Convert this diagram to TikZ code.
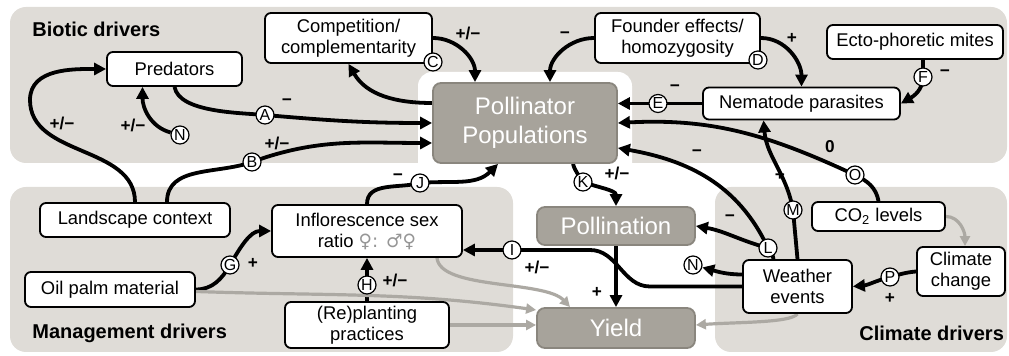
\documentclass[tikz,border=0pt]{standalone}
\usepackage{fontspec}
\setmainfont{Liberation Sans}
\newfontfamily\symfont{DejaVu Sans}
\usetikzlibrary{arrows.meta}

\definecolor{panelgrey}{RGB}{223,220,215}
\definecolor{boxgrey}{RGB}{167,163,155}
\definecolor{boxedge}{RGB}{138,134,126}
\definecolor{linkgrey}{RGB}{172,169,163}
\definecolor{symgrey}{RGB}{150,150,150}

\pgfdeclarelayer{panels}
\pgfdeclarelayer{links}
\pgfsetlayers{panels,links,main}

\begin{document}
\begin{tikzpicture}[x=0.5pt, y=0.5pt,
	box/.style={rectangle, rounded corners=3pt, draw=black, line width=0.9pt, fill=white, inner sep=0pt, align=center, font=\fontsize{9.2}{10.5}\selectfont},
	greybox/.style={rectangle, rounded corners=4pt, draw=boxedge, line width=0.9pt, fill=boxgrey, inner sep=0pt, align=center, text=white, font=\fontsize{12}{14.5}\selectfont},
	tag/.style={circle, draw=black, line width=0.6pt, fill=white, inner sep=0pt, minimum size=9pt, font=\fontsize{8}{8}\selectfont},
	sign/.style={inner sep=0pt, font=\bfseries\fontsize{8.6}{10}\selectfont},
	title/.style={anchor=west, inner sep=0pt, font=\bfseries\fontsize{10}{12}\selectfont},
	link/.style={line width=1.9pt, -{Triangle[length=6pt,width=6pt]}},
	glink/.style={line width=1.6pt, draw=linkgrey, -{Triangle[length=5pt,width=5pt]}}
]

	\useasboundingbox (0,0) rectangle (1009,-356);

	\begin{pgfonlayer}{panels}
	\fill[panelgrey, rounded corners=8pt] (10,-7) rectangle (1007,-163);
	\fill[white, rounded corners=7pt] (418,-172) -- (418,-72) -- (632,-72) -- (632,-172);
	\fill[panelgrey, rounded corners=8pt] (10,-187) rectangle (513,-352);
	\fill[panelgrey, rounded corners=8pt] (715,-187) rectangle (1007,-352);
	\end{pgfonlayer}

	\node 	(tbio)		at	(32,-29) 	[title]	{Biotic drivers};
	\node 	(tman)		at	(32,-333) 	[title]	{Management drivers};
	\node 	(tcli)		at	(859,-333) 	[title]	{Climate drivers};


	\node 	(pred)		at	(174.5,-69) 	[box, minimum width=67.5pt, minimum height=17pt]	{Predators};
	\node 	(comp)		at	(348.5,-38) 	[box, minimum width=83.5pt, minimum height=25pt]	{Competition/\\complementarity};
	\node 	(found)		at	(677.5,-38) 	[box, minimum width=82.5pt, minimum height=25pt]	{Founder effects/\\homozygosity};
	\node 	(ecto)		at	(915,-42) 	[box, minimum width=88pt, minimum height=17pt]	{Ecto-phoretic mites};
	\node 	(nema)		at	(801.5,-103.5) 	[box, minimum width=98.5pt, minimum height=16pt]	{Nematode parasites};

	\node 	(pollpop)	at	(525,-123) 	[greybox, minimum width=92pt, minimum height=40pt]	{Pollinator\\Populations};
	\node 	(poll)		at	(616,-226) 	[greybox, minimum width=79pt, minimum height=19pt]	{Pollination};
	\node 	(yield)		at	(616,-328) 	[greybox, minimum width=79pt, minimum height=20pt]	{Yield};

	\node 	(land)		at	(135,-220) 	[box, minimum width=95pt, minimum height=17pt]	{Landscape context};
	\node 	(oil)		at	(110,-289.5) 	[box, minimum width=85pt, minimum height=17.5pt]	{Oil palm material};
	\node 	(infl)		at	(367,-231) 	[box, minimum width=95pt, minimum height=26pt]	{Inflorescence sex\\ratio {\symfont\color{symgrey}♀: ♂♀}};
	\node 	(repl)		at	(367,-325) 	[box, minimum width=82pt, minimum height=23pt]	{(Re)planting\\practices};

	\node 	(weather)	at	(797.5,-286.5) 	[box, minimum width=54.5pt, minimum height=26.5pt]	{Weather\\events};
	\node 	(co2)		at	(878.5,-216.5) 	[box, minimum width=66.5pt, minimum height=14.5pt]	{CO\textsubscript{2} levels};
	\node 	(clim)		at	(961,-271.5) 	[box, minimum width=44pt, minimum height=24.5pt]	{Climate\\change};


	\node 	(cA)		at	(265,-115) 	[tag]	{A};
	\node 	(cB)		at	(252,-162) 	[tag]	{B};
	\node 	(cC)		at	(433,-62) 	[tag]	{C};
	\node 	(cD)		at	(758,-60) 	[tag]	{D};
	\node 	(cE)		at	(658,-103.5) 	[tag]	{E};
	\node 	(cF)		at	(923,-77) 	[tag]	{F};
	\node 	(cG)		at	(230,-265) 	[tag]	{G};
	\node 	(cH)		at	(367,-285) 	[tag]	{H};
	\node 	(cI)		at	(512,-250) 	[tag]	{I};
	\node 	(cJ)		at	(420,-183) 	[tag]	{J};
	\node 	(cK)		at	(583,-182) 	[tag]	{K};
	\node 	(cL)		at	(768,-248) 	[tag]	{L};
	\node 	(cM)		at	(793,-210) 	[tag]	{M};
	\node 	(cN1)		at	(180,-135) 	[tag]	{N};
	\node 	(cN2)		at	(693,-265) 	[tag]	{N};
	\node 	(cO)		at	(855,-175) 	[tag]	{O};
	\node 	(cP)		at	(890,-277) 	[tag]	{P};

	\coordinate	(w1)	at	(30,-100);
	\coordinate	(w2)	at	(650,-286.5);
	\coordinate	(w3)	at	(590,-250);


	\begin{pgfonlayer}{links}
	\draw[link]	(pred.south)	to[out=-80,in=175,looseness=0.7]	(cA.center)	to[out=-5,in=180]	(pollpop.west);
	\draw[link]	([xshift=16pt]land.north)	to[out=90,in=200]	(cB.center)	to[out=20,in=180]	([yshift=-10pt]pollpop.west);
	\draw[link]	(land.north)	to[out=90,in=-90]	(w1)	to[out=90,in=180]	(pred.west);
	\draw[link]	(cN1)	to[out=165,in=-90]	([xshift=-16pt]pred.south);

	\draw[link]	([yshift=10pt]pollpop.west)	to[out=180,in=-60]	(comp.south);
	\draw[link]	(comp.east)	to[out=0,in=90]	([xshift=-25pt]pollpop.north);
	\draw[link]	(found.west)	to[out=180,in=90]	([xshift=12.5pt]pollpop.north);
	\draw[link]	(found.east)	to[out=0,in=90]	(nema.north);
	\draw[link]	([xshift=4pt]ecto.south)	--	(cF.center)	to[out=-90,in=30]	(nema.east);
	\draw[link]	(nema.west)	--	(cE.center)	--	([yshift=9.75pt]pollpop.east);

	\draw[link]	(co2.north)	to[out=100,in=-25]	(cO.center)	to[out=155,in=3]	(pollpop.east);
	\draw[link]	([xshift=-12pt]weather.north)	to[out=95,in=-65]	(cL.center)	to[out=115,in=-10]	([yshift=-12.5pt]pollpop.east);
	\draw[link]	(cL.center)	to[out=165,in=-10]	(poll.east);
	\draw[link]	(weather.north)	--	(cM.center)	to[out=100,in=-85]	([xshift=-19pt]nema.south);
	\draw[link]	([yshift=6pt]weather.west)	to[out=180,in=-15]	(cN2);
	\draw[link]	(weather.west)	--	(w2)	to[out=180,in=0]	(w3)	--	(cI.center)	--	([yshift=-9.5pt]infl.east);

	\draw[link]	([xshift=24pt]pollpop.south)	to[out=-75,in=120]	(cK.center)	to[out=-20,in=90]	(poll.north);
	\draw[link]	(poll.south)	--	(yield.north);
	\draw[link]	(infl.north)	to[out=90,in=195]	(cJ.center)	to[out=5,in=-135]	([xshift=-13.5pt]pollpop.south);
	\draw[link]	(oil.east)	to[out=0,in=-120]	(cG.center)	to[out=60,in=180]	(infl.west);
	\draw[link]	(repl.north)	--	(cH.center)	--	(infl.south);
	\draw[link]	(clim.west)	to[out=185,in=15]	(cP.center)	to[out=195,in=5]	(weather.east);

	\draw[glink]	([yshift=-1pt]oil.east)	to[out=-2,in=172]	([yshift=9pt]yield.west);
	\draw[glink]	(repl.east)	--	(repl.east -| yield.west);
	\draw[glink]	([xshift=35pt]infl.south)	.. controls +(3,-32) and +(-25,27) ..	([xshift=-23pt]yield.north);
	\draw[glink]	(weather.south)	.. controls +(-7,-9) and +(43,3) ..	([yshift=1.5pt]yield.east);
	\draw[glink]	(co2.east)	to[out=0,in=90]	([xshift=2pt]clim.north);
	\end{pgfonlayer}


	\node 	(sA)		at	(287,-102) 	[sign]	{−};
	\node 	(sB)		at	(277,-143) 	[sign]	{+/−};
	\node 	(sLand)		at	(62,-123) 	[sign]	{+/−};
	\node 	(sN1)		at	(133,-125) 	[sign]	{+/−};
	\node 	(sC)		at	(468,-33) 	[sign]	{+/−};
	\node 	(sFound)	at	(565,-35) 	[sign]	{−};
	\node 	(sD)		at	(792,-38) 	[sign]	{+};
	\node 	(sF)		at	(945,-73) 	[sign]	{−};
	\node 	(sE)		at	(675,-88) 	[sign]	{−};
	\node 	(sO)		at	(830,-147) 	[sign]	{0};
	\node 	(sL)		at	(697,-153) 	[sign]	{−};
	\node 	(sLpoll)	at	(730,-218) 	[sign]	{−};
	\node 	(sM)		at	(780,-175) 	[sign]	{+};
	\node 	(sK)		at	(617,-173) 	[sign]	{+/−};
	\node 	(sJ)		at	(398,-177) 	[sign]	{−};
	\node 	(sI)		at	(537,-267) 	[sign]	{+/−};
	\node 	(sYield)	at	(597,-292) 	[sign]	{+};
	\node 	(sG)		at	(253,-263) 	[sign]	{+};
	\node 	(sH)		at	(395,-280) 	[sign]	{+/−};
	\node 	(sP)		at	(890,-298) 	[sign]	{+};

\end{tikzpicture}
\end{document}
